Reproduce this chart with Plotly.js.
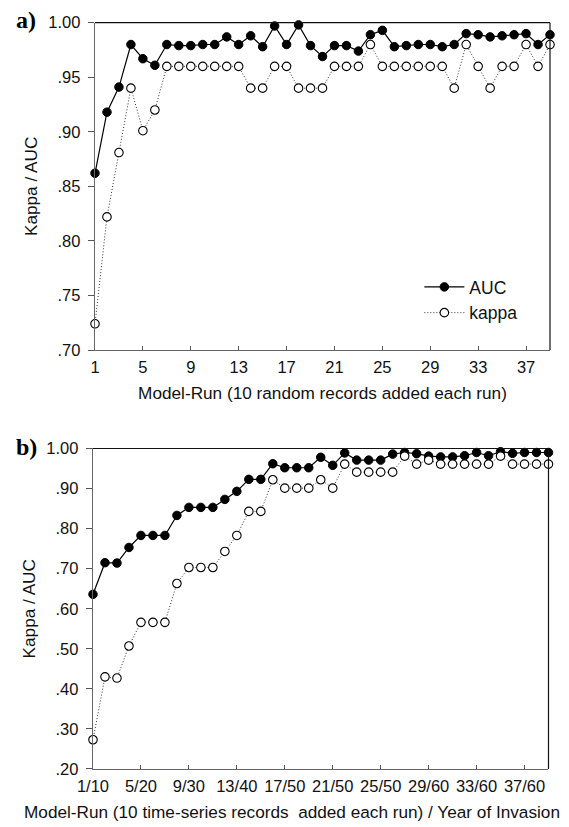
<!DOCTYPE html>
<html>
<head>
<meta charset="utf-8">
<script src="https://cdn.plot.ly/plotly-3.0.1.min.js"></script>
<style>html,body{margin:0;padding:0;background:#fff;}#chart{width:569px;height:827px;}</style>
</head>
<body>
<div id="chart"></div>
<script>
// ---- data ----
const runs = Array.from({length: 39}, (_, i) => i + 1);

const aucA = [0.862, 0.918, 0.941, 0.980, 0.967, 0.961, 0.980, 0.979, 0.979, 0.980,
              0.980, 0.987, 0.980, 0.988, 0.978, 0.997, 0.980, 0.998, 0.979, 0.969,
              0.979, 0.979, 0.974, 0.989, 0.993, 0.978, 0.979, 0.980, 0.980, 0.978,
              0.980, 0.990, 0.989, 0.987, 0.988, 0.989, 0.990, 0.980, 0.989];
const kappaA = [0.724, 0.822, 0.881, 0.940, 0.901, 0.920, 0.960, 0.960, 0.960, 0.960,
                0.960, 0.960, 0.960, 0.940, 0.940, 0.960, 0.960, 0.940, 0.940, 0.940,
                0.960, 0.960, 0.960, 0.980, 0.960, 0.960, 0.960, 0.960, 0.960, 0.960,
                0.940, 0.980, 0.960, 0.940, 0.960, 0.960, 0.980, 0.960, 0.980];

const aucB = [0.636, 0.715, 0.714, 0.753, 0.783, 0.783, 0.783, 0.833, 0.853, 0.853,
              0.853, 0.873, 0.893, 0.923, 0.923, 0.962, 0.952, 0.952, 0.952, 0.978,
              0.958, 0.989, 0.971, 0.971, 0.971, 0.986, 0.990, 0.987, 0.981, 0.979,
              0.979, 0.982, 0.990, 0.982, 0.992, 0.988, 0.990, 0.990, 0.990];
const kappaB = [0.273, 0.430, 0.427, 0.507, 0.566, 0.566, 0.566, 0.663, 0.703, 0.703,
                0.703, 0.743, 0.783, 0.843, 0.843, 0.922, 0.901, 0.901, 0.901, 0.922,
                0.901, 0.961, 0.941, 0.941, 0.941, 0.941, 0.981, 0.961, 0.971, 0.961,
                0.961, 0.961, 0.961, 0.961, 0.981, 0.961, 0.961, 0.961, 0.961];

const xTickValsA = [1, 5, 9, 13, 17, 21, 25, 29, 33, 37];
const xTickTextA = ['1', '5', '9', '13', '17', '21', '25', '29', '33', '37'];
const xTickValsB = [1, 5, 9, 13, 17, 21, 25, 29, 33, 37];
const xTickTextB = ['1/10', '5/20', '9/30', '13/40', '17/50', '21/50', '25/50', '29/60', '33/60', '37/60'];
const yTickValsA = [0.70, 0.75, 0.80, 0.85, 0.90, 0.95, 1.00];
const yTickTextA = ['.70', '.75', '.80', '.85', '.90', '.95', '1.00'];
const yTickValsB = [0.20, 0.30, 0.40, 0.50, 0.60, 0.70, 0.80, 0.90, 1.00];
const yTickTextB = ['.20', '.30', '.40', '.50', '.60', '.70', '.80', '.90', '1.00'];

const titleA = 'Model-Run (10 random records added each run)';
const titleB = 'Model-Run (10 time-series records&nbsp; added each run) / Year of Invasion';

// ---- styles ----
const FONT = 'Liberation Sans, Arial, sans-serif';
const TICK = 16.5, TITLE = 17.2;
const aucStyle = {
  mode: 'lines+markers',
  line: {color: '#000', width: 1.2},
  marker: {symbol: 'circle', size: 8.5, color: '#000', line: {color: '#000', width: 1}},
  cliponaxis: false
};
const kappaStyle = {
  mode: 'lines+markers',
  line: {color: '#333', width: 1, dash: '1px,2px'},
  marker: {symbol: 'circle', size: 8.5, color: '#fff', line: {color: '#000', width: 1.1}},
  cliponaxis: false
};

const traces = [
  Object.assign({x: runs, y: aucA, name: 'AUC', xaxis: 'x', yaxis: 'y', showlegend: true}, aucStyle),
  Object.assign({x: runs, y: kappaA, name: 'kappa', xaxis: 'x', yaxis: 'y', showlegend: true}, kappaStyle),
  Object.assign({x: runs, y: aucB, name: 'AUC', xaxis: 'x2', yaxis: 'y2', showlegend: false}, aucStyle),
  Object.assign({x: runs, y: kappaB, name: 'kappa', xaxis: 'x2', yaxis: 'y2', showlegend: false}, kappaStyle)
];

function xAxis(domain, anchor, vals, text, title) {
  const ax = {
    domain: domain, anchor: anchor, range: [1, 39],
    showgrid: false, zeroline: false,
    showline: true, linecolor: '#666', linewidth: 1.3,
    ticks: 'inside', ticklen: 4, tickwidth: 1, tickcolor: '#555',
    tickvals: vals, ticktext: text,
    tickfont: {family: FONT, size: TICK, color: '#111'},
    ticklabelstandoff: 2
  };
  if (title) ax.title = {text: title, font: {family: FONT, size: TITLE, color: '#111'}, standoff: 12};
  return ax;
}
function yAxis(domain, anchor, range, vals, text) {
  return {
    domain: domain, anchor: anchor, range: range,
    showgrid: false, zeroline: false,
    showline: true, linecolor: '#666', linewidth: 1.3,
    ticks: 'outside', ticklen: 6, tickwidth: 1, tickcolor: '#555',
    tickvals: vals, ticktext: text,
    tickfont: {family: FONT, size: TICK, color: '#111'},
    ticklabelstandoff: 4,
    title: {text: 'Kappa / AUC', font: {family: FONT, size: TITLE, color: '#111'}, standoff: 6}
  };
}

const layout = {
  width: 569, height: 827,
  margin: {l: 0, r: 0, t: 0, b: 0},
  paper_bgcolor: '#fff', plot_bgcolor: '#fff',
  showlegend: true,
  xaxis: xAxis([0.16696, 0.96661], 'y', xTickValsA, xTickTextA, titleA),
  yaxis: yAxis([0.57678, 0.97255], 'x', [0.70, 1.00], yTickValsA, yTickTextA),
  xaxis2: xAxis([0.16344, 0.96397], 'y2', xTickValsB, xTickTextB, null),
  yaxis2: yAxis([0.07013, 0.45768], 'x2', [0.20, 1.00], yTickValsB, yTickTextB),
  legend: {
    x: 0.737, y: 1 - 269 / 827, xanchor: 'left', yanchor: 'top',
    bgcolor: 'rgba(0,0,0,0)', borderwidth: 0,
    font: {family: FONT, size: 17.5, color: '#111'},
    itemwidth: 40, tracegroupgap: 0
  },
  shapes: [
    {type: 'line', xref: 'x domain', yref: 'y domain', x0: 0, x1: 1, y0: 1, y1: 1, line: {color: '#111', width: 1.2}},
    {type: 'line', xref: 'x domain', yref: 'y domain', x0: 1, x1: 1, y0: 0, y1: 1, line: {color: '#111', width: 1.2}},
    {type: 'line', xref: 'x2 domain', yref: 'y2 domain', x0: 0, x1: 1, y0: 1, y1: 1, line: {color: '#111', width: 1.2}},
    {type: 'line', xref: 'x2 domain', yref: 'y2 domain', x0: 1, x1: 1, y0: 0, y1: 1, line: {color: '#111', width: 1.2}}
  ],
  annotations: [
    {text: '<b>a)</b>', xref: 'paper', yref: 'paper', x: 14 / 569, y: 1 - 20 / 827, xanchor: 'left', yanchor: 'middle',
     showarrow: false, font: {family: 'Liberation Serif, Times New Roman, serif', size: 24, color: '#000'}},
    {text: '<b>b)</b>', xref: 'paper', yref: 'paper', x: 14 / 569, y: 1 - 447 / 827, xanchor: 'left', yanchor: 'middle',
     showarrow: false, font: {family: 'Liberation Serif, Times New Roman, serif', size: 24, color: '#000'}},
    {text: titleB, xref: 'paper', yref: 'paper', x: 292 / 569, y: 1 - 812 / 827, xanchor: 'center', yanchor: 'middle',
     showarrow: false, font: {family: FONT, size: TITLE, color: '#111'}}
  ]
};

Plotly.newPlot('chart', traces, layout, {staticPlot: true, displayModeBar: false});
</script>
</body>
</html>
